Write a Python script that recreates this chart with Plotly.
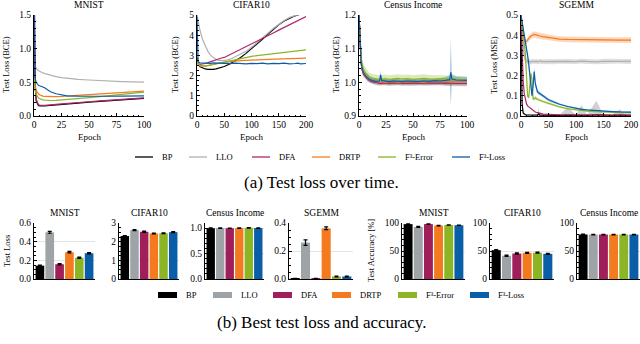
import plotly.graph_objects as go

FONT = "Liberation Serif"

methods = ["BP", "LLO", "DFA", "DRTP", "F³-Error", "F³-Loss"]
line_colors = ["#000000", "#b0b0b0", "#b0266a", "#f47a1f", "#8cb526", "#0a5ea8"]
bar_colors = ["#000000", "#9da3a6", "#a01e5a", "#f47a1f", "#8cb526", "#0a5ea8"]
band_colors = ["rgba(0,0,0,0.18)", "rgba(150,150,150,0.3)", "rgba(176,38,106,0.2)",
               "rgba(244,122,31,0.3)", "rgba(140,181,38,0.3)", "rgba(10,94,168,0.3)"]

# ---------------- (a) test loss over time ----------------
mnist_epoch = [0, 1, 2, 3, 4, 5, 6, 8, 10, 12, 15, 20, 25, 30, 40, 50, 60, 70, 80, 90, 100]
mnist_loss = {
    "BP":       [2.3, 0.5, 0.22, 0.17, 0.155, 0.15, 0.148, 0.148, 0.15, 0.153, 0.158, 0.165, 0.172, 0.18, 0.192, 0.205, 0.217, 0.228, 0.24, 0.252, 0.262],
    "LLO":      [0.76, 0.73, 0.71, 0.69, 0.675, 0.665, 0.655, 0.64, 0.63, 0.62, 0.605, 0.585, 0.57, 0.56, 0.545, 0.535, 0.525, 0.518, 0.512, 0.507, 0.503],
    "DFA":      [2.3, 0.55, 0.25, 0.19, 0.17, 0.163, 0.16, 0.158, 0.159, 0.16, 0.165, 0.172, 0.18, 0.188, 0.2, 0.212, 0.224, 0.235, 0.247, 0.258, 0.27],
    "DRTP":     [0.6, 0.42, 0.38, 0.35, 0.33, 0.315, 0.305, 0.295, 0.29, 0.288, 0.286, 0.287, 0.29, 0.295, 0.305, 0.316, 0.327, 0.338, 0.349, 0.36, 0.37],
    "F³-Error": [0.6, 0.38, 0.32, 0.29, 0.27, 0.26, 0.25, 0.24, 0.235, 0.232, 0.23, 0.232, 0.237, 0.244, 0.258, 0.272, 0.287, 0.302, 0.318, 0.335, 0.355],
    "F³-Loss":  [1.6, 0.56, 0.5, 0.47, 0.455, 0.45, 0.44, 0.43, 0.415, 0.39, 0.36, 0.33, 0.31, 0.3, 0.295, 0.292, 0.292, 0.293, 0.295, 0.297, 0.3],
}

cifar_epoch = [0, 2, 5, 10, 15, 20, 25, 30, 35, 40, 45, 50, 60, 70, 80, 90, 100, 110, 120, 130, 140, 150, 160, 170, 180, 185, 190, 200]
cifar_loss = {
    "BP":       [2.9, 2.6, 2.45, 2.38, 2.33, 2.31, 2.3, 2.31, 2.33, 2.36, 2.4, 2.45, 2.57, 2.72, 2.9, 3.1, 3.32, 3.55, 3.8, 4.05, 4.3, 4.52, 4.7, 4.85, 4.96, 5.0, 5.05, 5.1],
    "LLO":      [5.0, 4.7, 4.3, 3.8, 3.45, 3.2, 3.0, 2.88, 2.8, 2.75, 2.73, 2.74, 2.8, 2.92, 3.05, 3.2, 3.4, 3.62, 3.86, 4.1, 4.33, 4.55, 4.73, 4.88, 4.98, 5.02, 5.06, 5.1],
    "DFA":      [2.8, 2.6, 2.55, 2.56, 2.6, 2.64, 2.69, 2.74, 2.79, 2.83, 2.87, 2.9, 3.03, 3.17, 3.3, 3.44, 3.57, 3.71, 3.84, 3.98, 4.11, 4.25, 4.38, 4.52, 4.65, 4.72, 4.79, 4.92],
    "DRTP":     [2.8, 2.55, 2.48, 2.47, 2.48, 2.5, 2.52, 2.55, 2.58, 2.61, 2.64, 2.66, 2.7, 2.72, 2.74, 2.76, 2.77, 2.78, 2.79, 2.8, 2.81, 2.82, 2.83, 2.84, 2.85, 2.85, 2.86, 2.87],
    "F³-Error": [2.8, 2.6, 2.5, 2.47, 2.47, 2.49, 2.52, 2.55, 2.58, 2.62, 2.65, 2.68, 2.74, 2.79, 2.85, 2.9, 2.95, 2.99, 3.02, 3.06, 3.09, 3.12, 3.15, 3.18, 3.21, 3.23, 3.24, 3.27],
    "F³-Loss":  [4.9, 2.7, 2.63, 2.62, 2.62, 2.63, 2.61, 2.63, 2.62, 2.6, 2.62, 2.61, 2.59, 2.62, 2.6, 2.58, 2.61, 2.59, 2.62, 2.58, 2.61, 2.59, 2.62, 2.58, 2.6, 2.62, 2.58, 2.6],
}

census_epoch = [0, 1, 2, 3, 4, 6, 8, 10, 13, 16, 19, 20, 21, 24, 28, 32, 36, 40, 45, 50, 55, 60, 65, 70, 75, 80, 84, 85, 86, 90, 95, 100]
census_loss = {
    "BP":       [1.2, 1.1, 1.06, 1.04, 1.03, 1.02, 1.012, 1.007, 1.003, 1.0, 0.999, 0.998, 0.999, 1.0, 0.998, 0.999, 1.0, 0.998, 0.999, 0.998, 1.0, 0.999, 0.998, 0.999, 1.0, 0.998, 0.999, 0.998, 0.999, 0.998, 0.997, 0.997],
    "LLO":      [1.2, 1.11, 1.07, 1.05, 1.035, 1.022, 1.015, 1.01, 1.006, 1.003, 1.002, 1.001, 1.002, 1.001, 1.0, 1.002, 1.001, 1.0, 1.001, 1.002, 1.0, 1.001, 1.0, 1.002, 1.001, 1.0, 1.001, 1.0, 1.001, 1.0, 0.999, 1.0],
    "DFA":      [1.2, 1.09, 1.055, 1.035, 1.025, 1.016, 1.01, 1.005, 1.001, 0.999, 0.998, 0.998, 0.997, 0.999, 0.998, 0.997, 0.998, 0.999, 0.997, 0.998, 0.997, 0.999, 0.998, 0.997, 0.998, 0.999, 0.997, 0.998, 0.998, 0.997, 0.998, 0.997],
    "DRTP":     [1.2, 1.1, 1.06, 1.04, 1.03, 1.02, 1.013, 1.008, 1.004, 1.002, 1.001, 1.0, 1.001, 1.0, 1.001, 1.002, 1.0, 1.001, 1.0, 1.002, 1.001, 1.0, 1.002, 1.001, 1.0, 1.001, 1.002, 1.001, 1.0, 1.001, 1.0, 1.001],
    "F³-Error": [1.2, 1.11, 1.07, 1.05, 1.04, 1.028, 1.02, 1.015, 1.012, 1.01, 1.009, 1.008, 1.01, 1.011, 1.009, 1.01, 1.012, 1.01, 1.011, 1.009, 1.01, 1.012, 1.01, 1.009, 1.011, 1.01, 1.009, 1.01, 1.011, 1.009, 1.008, 1.007],
    "F³-Loss":  [1.2, 1.1, 1.06, 1.04, 1.03, 1.02, 1.013, 1.008, 1.005, 1.003, 1.004, 1.022, 1.005, 1.003, 1.002, 1.004, 1.003, 1.002, 1.004, 1.003, 1.002, 1.004, 1.003, 1.005, 1.004, 1.006, 1.008, 1.03, 1.01, 1.007, 1.006, 1.006],
}
census_std = {
    "BP":       [0.0, 0.02, 0.015, 0.012, 0.011, 0.01, 0.01, 0.009, 0.009, 0.009, 0.009, 0.009, 0.009, 0.009, 0.009, 0.009, 0.009, 0.009, 0.009, 0.009, 0.009, 0.009, 0.009, 0.009, 0.009, 0.009, 0.009, 0.009, 0.009, 0.009, 0.009, 0.009],
    "LLO":      [0.0, 0.02, 0.015, 0.012, 0.011, 0.01, 0.01, 0.009, 0.009, 0.009, 0.009, 0.009, 0.009, 0.009, 0.009, 0.009, 0.009, 0.009, 0.009, 0.009, 0.009, 0.009, 0.009, 0.009, 0.009, 0.009, 0.009, 0.009, 0.009, 0.009, 0.009, 0.009],
    "DFA":      [0.0, 0.015, 0.012, 0.01, 0.008, 0.007, 0.006, 0.006, 0.006, 0.006, 0.006, 0.006, 0.006, 0.006, 0.006, 0.006, 0.006, 0.006, 0.006, 0.006, 0.006, 0.006, 0.006, 0.006, 0.006, 0.006, 0.006, 0.006, 0.006, 0.006, 0.006, 0.006],
    "DRTP":     [0.0, 0.01, 0.008, 0.006, 0.005, 0.004, 0.004, 0.004, 0.004, 0.004, 0.004, 0.004, 0.004, 0.004, 0.004, 0.004, 0.004, 0.004, 0.004, 0.004, 0.004, 0.004, 0.004, 0.004, 0.004, 0.004, 0.004, 0.004, 0.004, 0.004, 0.004, 0.004],
    "F³-Error": [0.0, 0.025, 0.02, 0.018, 0.016, 0.015, 0.014, 0.013, 0.012, 0.012, 0.012, 0.012, 0.012, 0.012, 0.012, 0.012, 0.012, 0.012, 0.012, 0.012, 0.012, 0.012, 0.012, 0.012, 0.011, 0.011, 0.011, 0.011, 0.011, 0.01, 0.01, 0.01],
    "F³-Loss":  [0.0, 0.012, 0.01, 0.008, 0.007, 0.006, 0.006, 0.006, 0.006, 0.006, 0.006, 0.015, 0.006, 0.006, 0.006, 0.006, 0.006, 0.006, 0.006, 0.006, 0.006, 0.006, 0.006, 0.007, 0.008, 0.01, 0.012, 0.1, 0.015, 0.01, 0.01, 0.01],
}

sgemm_epoch = [0, 2, 4, 6, 8, 10, 12, 14, 16, 18, 20, 22, 24, 26, 28, 30, 32, 34, 40, 50, 60, 70, 85, 100, 110, 120, 137, 150, 165, 180, 190, 200]
sgemm_loss = {
    "BP":       [0.5, 0.06, 0.015, 0.008, 0.006, 0.005, 0.005, 0.004, 0.004, 0.004, 0.004, 0.004, 0.004, 0.004, 0.004, 0.004, 0.012, 0.004, 0.004, 0.003, 0.003, 0.003, 0.004, 0.003, 0.004, 0.003, 0.006, 0.003, 0.003, 0.004, 0.003, 0.003],
    "LLO":      [0.5, 0.42, 0.33, 0.29, 0.275, 0.27, 0.268, 0.272, 0.27, 0.266, 0.27, 0.272, 0.268, 0.27, 0.271, 0.267, 0.27, 0.272, 0.269, 0.27, 0.268, 0.271, 0.27, 0.269, 0.272, 0.27, 0.268, 0.271, 0.27, 0.272, 0.269, 0.27],
    "DFA":      [0.5, 0.3, 0.17, 0.11, 0.08, 0.06, 0.05, 0.045, 0.04, 0.035, 0.03, 0.025, 0.022, 0.02, 0.018, 0.016, 0.015, 0.014, 0.01, 0.008, 0.007, 0.006, 0.005, 0.005, 0.004, 0.004, 0.004, 0.004, 0.004, 0.004, 0.004, 0.004],
    "DRTP":     [0.48, 0.42, 0.39, 0.375, 0.368, 0.37, 0.375, 0.382, 0.39, 0.396, 0.4, 0.403, 0.404, 0.403, 0.401, 0.399, 0.398, 0.396, 0.393, 0.388, 0.384, 0.381, 0.379, 0.378, 0.377, 0.377, 0.376, 0.376, 0.376, 0.376, 0.376, 0.376],
    "F³-Error": [0.5, 0.45, 0.4, 0.36, 0.31, 0.2, 0.1, 0.09, 0.14, 0.21, 0.18, 0.085, 0.085, 0.09, 0.085, 0.082, 0.08, 0.078, 0.072, 0.062, 0.052, 0.045, 0.036, 0.03, 0.027, 0.024, 0.021, 0.019, 0.017, 0.016, 0.015, 0.015],
    "F³-Loss":  [0.5, 0.47, 0.44, 0.4, 0.36, 0.34, 0.3, 0.26, 0.2, 0.14, 0.1, 0.15, 0.22, 0.16, 0.13, 0.12, 0.115, 0.11, 0.1, 0.08, 0.068, 0.058, 0.047, 0.038, 0.033, 0.03, 0.026, 0.024, 0.022, 0.02, 0.02, 0.019],
}
sgemm_std = {
    "BP":       [0.0, 0.02, 0.01, 0.004, 0.003, 0.002, 0.002, 0.002, 0.002, 0.002, 0.002, 0.002, 0.002, 0.002, 0.002, 0.002, 0.03, 0.002, 0.002, 0.002, 0.002, 0.002, 0.04, 0.002, 0.05, 0.002, 0.07, 0.002, 0.002, 0.03, 0.002, 0.002],
    "LLO":      [0.0, 0.02, 0.015, 0.012, 0.012, 0.012, 0.012, 0.012, 0.012, 0.012, 0.012, 0.012, 0.012, 0.012, 0.012, 0.012, 0.012, 0.012, 0.012, 0.012, 0.012, 0.012, 0.012, 0.012, 0.012, 0.012, 0.012, 0.012, 0.012, 0.012, 0.012, 0.012],
    "DFA":      [0.0, 0.01, 0.008, 0.006, 0.005, 0.004, 0.004, 0.003, 0.003, 0.003, 0.003, 0.002, 0.002, 0.002, 0.002, 0.002, 0.002, 0.002, 0.002, 0.002, 0.002, 0.002, 0.002, 0.002, 0.002, 0.002, 0.002, 0.002, 0.002, 0.002, 0.002, 0.002],
    "DRTP":     [0.0, 0.01, 0.012, 0.012, 0.012, 0.013, 0.013, 0.014, 0.014, 0.015, 0.015, 0.015, 0.015, 0.015, 0.015, 0.015, 0.015, 0.015, 0.015, 0.015, 0.014, 0.014, 0.014, 0.014, 0.014, 0.014, 0.014, 0.014, 0.014, 0.014, 0.014, 0.014],
    "F³-Error": [0.0, 0.01, 0.01, 0.012, 0.015, 0.015, 0.012, 0.01, 0.015, 0.02, 0.015, 0.01, 0.01, 0.01, 0.01, 0.008, 0.008, 0.008, 0.007, 0.006, 0.005, 0.004, 0.004, 0.003, 0.003, 0.003, 0.003, 0.003, 0.003, 0.003, 0.003, 0.003],
    "F³-Loss":  [0.0, 0.01, 0.01, 0.012, 0.015, 0.015, 0.015, 0.015, 0.015, 0.015, 0.012, 0.015, 0.02, 0.015, 0.012, 0.01, 0.01, 0.01, 0.008, 0.007, 0.006, 0.005, 0.004, 0.004, 0.003, 0.003, 0.003, 0.003, 0.003, 0.003, 0.003, 0.003],
}

# ---------------- (b) best test loss and accuracy ----------------
best_loss_mnist = [0.143, 0.50, 0.158, 0.287, 0.228, 0.276]
best_loss_mnist_err = [0.006, 0.01, 0.006, 0.008, 0.006, 0.006]
best_loss_cifar = [2.30, 2.62, 2.53, 2.44, 2.45, 2.51]
best_loss_cifar_err = [0.03, 0.03, 0.03, 0.025, 0.025, 0.03]
best_loss_census = [0.997, 1.0, 0.997, 1.0, 1.005, 1.0]
best_loss_census_err = [0.006, 0.005, 0.005, 0.005, 0.006, 0.005]
best_loss_sgemm = [0.004, 0.26, 0.004, 0.362, 0.018, 0.018]
best_loss_sgemm_err = [0.001, 0.02, 0.001, 0.01, 0.003, 0.003]
best_acc_mnist = [98.0, 93.0, 98.0, 95.5, 96.5, 96.0]
best_acc_mnist_err = [0.3, 0.8, 0.3, 0.5, 0.4, 0.4]
best_acc_cifar = [51.5, 41.5, 45.5, 46.8, 47.0, 45.0]
best_acc_cifar_err = [1.2, 1.0, 1.0, 1.0, 1.0, 1.0]
best_acc_census = [79.5, 79.3, 79.4, 79.4, 79.3, 79.4]
best_acc_census_err = [0.5, 0.5, 0.5, 0.5, 0.5, 0.5]

W, H = 640, 344


def dx(a, b):
    return [a / W, b / W]


def dy(top, bottom):
    return [1 - bottom / H, 1 - top / H]


def ids(i):
    s = "" if i == 1 else str(i)
    return "xaxis" + s, "yaxis" + s, "x" + s, "y" + s


def note(text, xp, yp, size=9.5, angle=0, xanchor="center"):
    return dict(text=text, x=xp / W, y=1 - yp / H, xref="paper", yref="paper", showarrow=False,
                xanchor=xanchor, yanchor="middle", textangle=angle,
                font=dict(family=FONT, size=size, color="black"))


fig = go.Figure()
layout = {}
annotations = []
shapes = []

tickfont = dict(family=FONT, size=9.5, color="black")

top_panels = [
    dict(title="MNIST", xpx=(34, 144), xr=[0, 100], xt=[0, 25, 50, 75, 100], xm=5,
         yr=[0, 1.5], yt=[0, 0.5, 1.0, 1.5], yfmt=".1f", ym=0.1, ytitle="Test Loss (BCE)", ytx=6,
         epoch=mnist_epoch, data=mnist_loss, std=None),
    dict(title="CIFAR10", xpx=(197, 306), xr=[0, 200], xt=[0, 50, 100, 150, 200], xm=10,
         yr=[0, 5], yt=[0, 1, 2, 3, 4, 5], yfmt="d", ym=0.25, ytitle="Test Loss (BCE)", ytx=175,
         epoch=cifar_epoch, data=cifar_loss, std=None),
    dict(title="Census Income", xpx=(359, 467), xr=[0, 100], xt=[0, 25, 50, 75, 100], xm=5,
         yr=[0.9, 1.2], yt=[0.9, 1.0, 1.1, 1.2], yfmt=".1f", ym=0.02, ytitle="Test Loss (BCE)", ytx=336,
         epoch=census_epoch, data=census_loss, std=census_std),
    dict(title="SGEMM", xpx=(521, 631), xr=[0, 200], xt=[0, 50, 100, 150, 200], xm=10,
         yr=[0, 0.5], yt=[0, 0.1, 0.2, 0.3, 0.4, 0.5], yfmt=".1f", ym=0.025, ytitle="Test Loss (MSE)", ytx=494,
         epoch=sgemm_epoch, data=sgemm_loss, std=sgemm_std),
]

TOP_T, TOP_B = 15, 116
for i, p in enumerate(top_panels, start=1):
    xa, ya, xr_, yr_ = ids(i)
    layout[xa] = dict(domain=dx(*p["xpx"]), range=p["xr"], anchor=yr_, showline=True, linecolor="black",
                      linewidth=1, ticks="inside", ticklen=3, tickcolor="black", tickvals=p["xt"],
                      minor=dict(ticks="inside", ticklen=1.5, dtick=p["xm"], tick0=0, tickcolor="black"),
                      showgrid=False, zeroline=False, tickfont=tickfont, fixedrange=True, automargin=False)
    layout[ya] = dict(domain=dy(TOP_T, TOP_B), range=p["yr"], anchor=xr_, showline=True, linecolor="black",
                      linewidth=1, ticks="inside", ticklen=3, tickcolor="black", tickvals=p["yt"],
                      tickformat=p["yfmt"],
                      minor=dict(ticks="inside", ticklen=1.5, dtick=p["ym"], tick0=0, tickcolor="black"),
                      showgrid=False, zeroline=False, tickfont=tickfont, fixedrange=True, automargin=False)
    if p["std"] is not None:
        for m, bc in zip(methods, band_colors):
            mean = p["data"][m]
            sd = p["std"][m]
            up = [a + b for a, b in zip(mean, sd)]
            lo = [a - b for a, b in zip(mean, sd)]
            fig.add_trace(go.Scatter(x=p["epoch"] + p["epoch"][::-1], y=up + lo[::-1], fill="toself",
                                     fillcolor=bc, line=dict(width=0), mode="lines", hoverinfo="skip",
                                     showlegend=False, xaxis=xr_, yaxis=yr_))
    for m, c in zip(methods, line_colors):
        fig.add_trace(go.Scatter(x=p["epoch"], y=p["data"][m], mode="lines", name=m,
                                 line=dict(color=c, width=1.2), showlegend=False, xaxis=xr_, yaxis=yr_))
    cx = (p["xpx"][0] + p["xpx"][1]) / 2
    annotations.append(note(p["title"], cx, 5))
    annotations.append(note("Epoch", cx, 137, size=9))
    annotations.append(note(p["ytitle"], p["ytx"], 65, size=8.5, angle=-90))

bar_panels = [
    dict(title="MNIST", xpx=(34, 95), yr=[0, 0.6], yt=[0, 0.2, 0.4, 0.6], yfmt=".1f", ym=0.05,
         vals=best_loss_mnist, err=best_loss_mnist_err),
    dict(title="CIFAR10", xpx=(119, 179), yr=[0, 3], yt=[0, 1, 2, 3], yfmt="d", ym=0.25,
         vals=best_loss_cifar, err=best_loss_cifar_err),
    dict(title="Census Income", xpx=(205, 264), yr=[0, 1.1], yt=[0, 0.5, 1.0], yfmt=".1f", ym=0.1,
         vals=best_loss_census, err=best_loss_census_err),
    dict(title="SGEMM", xpx=(289, 353), yr=[0, 0.4], yt=[0, 0.2, 0.4], yfmt=".1f", ym=0.05,
         vals=best_loss_sgemm, err=best_loss_sgemm_err),
    dict(title="MNIST", xpx=(402, 465), yr=[0, 100], yt=[0, 50, 100], yfmt="d", ym=10,
         vals=best_acc_mnist, err=best_acc_mnist_err),
    dict(title="CIFAR10", xpx=(490, 554), yr=[0, 100], yt=[0, 50, 100], yfmt="d", ym=10,
         vals=best_acc_cifar, err=best_acc_cifar_err),
    dict(title="Census Income", xpx=(577, 640), yr=[0, 100], yt=[0, 50, 100], yfmt="d", ym=10,
         vals=best_acc_census, err=best_acc_census_err),
]

BAR_T, BAR_B = 223, 279
for j, p in enumerate(bar_panels, start=5):
    xa, ya, xr_, yr_ = ids(j)
    layout[xa] = dict(domain=dx(*p["xpx"]), range=[-0.6, 5.6], anchor=yr_, type="category",
                      showline=True, linecolor="black", linewidth=1, ticks="", showticklabels=False,
                      showgrid=False, zeroline=False, fixedrange=True, automargin=False)
    layout[ya] = dict(domain=dy(BAR_T, BAR_B), range=p["yr"], anchor=xr_, showline=True, linecolor="black",
                      linewidth=1, ticks="inside", ticklen=3, tickcolor="black", tickvals=p["yt"],
                      tickformat=p["yfmt"],
                      minor=dict(ticks="inside", ticklen=1.5, dtick=p["ym"], tick0=0, tickcolor="black"),
                      showgrid=True, gridcolor="#e3e3e3", gridwidth=1, zeroline=False,
                      tickfont=tickfont, fixedrange=True, automargin=False)
    fig.add_trace(go.Bar(x=methods, y=p["vals"], marker=dict(color=bar_colors, line=dict(width=0)),
                         error_y=dict(type="data", array=p["err"], color="black", thickness=1.2, width=2),
                         showlegend=False, xaxis=xr_, yaxis=yr_, width=0.88))
    cx = (p["xpx"][0] + p["xpx"][1]) / 2
    annotations.append(note(p["title"], cx, 213))

annotations.append(note("Test Loss", 7, 251, size=8.5, angle=-90))
annotations.append(note("Test Accuracy [%]", 371, 251, size=8.5, angle=-90))

# legends (drawn manually to match the compact LaTeX style)
top_leg_x = [135, 189, 252, 312, 378, 452]
for m, c, x0 in zip(methods, line_colors, top_leg_x):
    shapes.append(dict(type="line", xref="paper", yref="paper", x0=x0 / W, x1=(x0 + 18) / W,
                       y0=1 - 157 / H, y1=1 - 157 / H, line=dict(color=c, width=1.3)))
    annotations.append(note(m, x0 + 25, 157, size=8.5, xanchor="left"))

bot_leg_x = [158, 213, 273, 332, 398, 470]
for m, c, x0 in zip(methods, bar_colors, bot_leg_x):
    shapes.append(dict(type="rect", xref="paper", yref="paper", x0=x0 / W, x1=(x0 + 19) / W,
                       y0=1 - 298 / H, y1=1 - 292 / H, line=dict(width=0), fillcolor=c))
    annotations.append(note(m, x0 + 26, 295, size=8.5, xanchor="left"))

annotations.append(note("(a) Test loss over time.", 321, 182, size=17))
annotations.append(note("(b) Best test loss and accuracy.", 321, 322, size=17))

fig.update_layout(width=W, height=H, margin=dict(l=0, r=0, t=0, b=0, pad=0), paper_bgcolor="white",
                  plot_bgcolor="white", showlegend=False, annotations=annotations, shapes=shapes,
                  bargap=0.1, **layout)

fig.write_html("out.html", config=dict(displayModeBar=False),
               post_script="document.body.style.margin='0';document.body.style.overflow='hidden';")
